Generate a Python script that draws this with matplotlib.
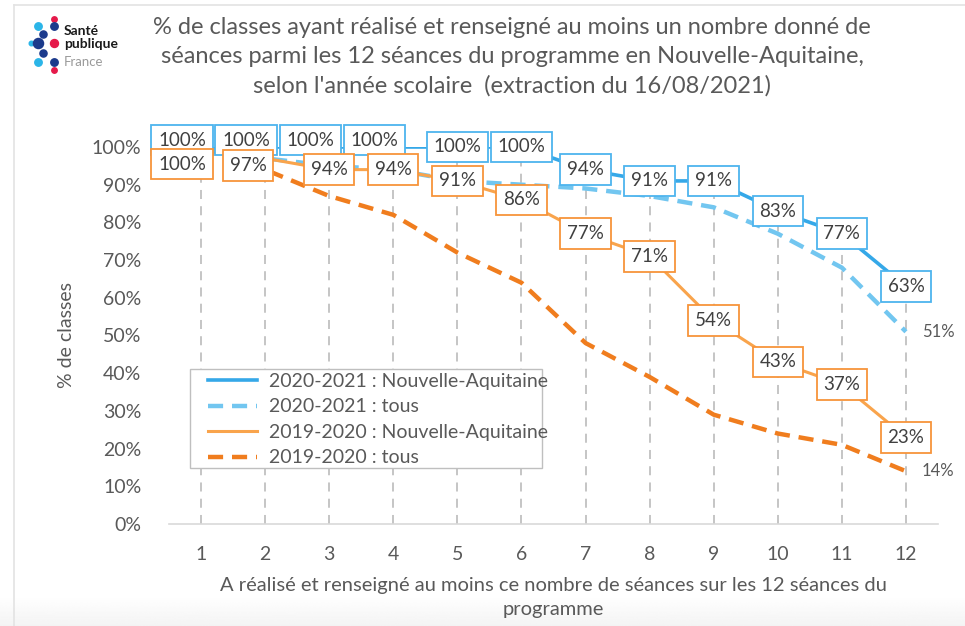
import matplotlib
matplotlib.use("Agg")
import matplotlib.pyplot as plt
import numpy as np
from matplotlib.lines import Line2D
from matplotlib.patches import Rectangle

plt.rcParams['font.family'] = ['Lato', 'DejaVu Sans']

seances = [1, 2, 3, 4, 5, 6, 7, 8, 9, 10, 11, 12]
na_2021 = [100, 100, 100, 100, 100, 100, 94, 91, 91, 83, 77, 63]
tous_2021 = [100, 97, 95, 94, 91, 90, 89, 87, 84, 77, 68, 51]
na_2020 = [100, 97, 94, 94, 91, 86, 77, 71, 54, 43, 37, 23]
tous_2020 = [100, 94, 87, 82, 72, 64, 48, 39, 29, 24, 21, 14]

title = ("% de classes ayant réalisé et renseigné au moins un nombre donné de\n"
         "séances parmi les 12 séances du programme en Nouvelle-Aquitaine,\n"
         "selon l'année scolaire  (extraction du 16/08/2021)")
xlabel = "A réalisé et renseigné au moins ce nombre de séances sur les 12 séances du\nprogramme"
ylabel = "% de classes"
legend_labels = ["2020-2021 : Nouvelle-Aquitaine", "2020-2021 : tous",
                 "2019-2020 : Nouvelle-Aquitaine", "2019-2020 : tous"]

c_blue = '#35A8E8'
c_lblue = '#72C6F0'
c_orange = '#F9A44C'
c_dorange = '#F07D1E'
txt = '#404040'
tick_c = '#595959'

W, H = 965, 626
fig = plt.figure(figsize=(W / 100, H / 100), dpi=100)

# faint grey gradient at the bottom of the slide
gax = fig.add_axes([0, 0, 1, 30 / H], zorder=-5)
grad = np.linspace(0.955, 1.0, 64).reshape(-1, 1)
gax.imshow(np.repeat(grad, 4, axis=1), cmap='gray', vmin=0, vmax=1,
           aspect='auto', extent=(0, 1, 0, 1), origin='lower')
gax.set_axis_off()

AX_L, AX_R, AX_T, AX_B = 169, 938, 147, 524
ax = fig.add_axes([AX_L / W, 1 - AX_B / H, (AX_R - AX_L) / W, (AX_B - AX_T) / H])
ax.set_xlim(0.5, 12.5)
ax.set_ylim(0, 100)
ax.patch.set_alpha(0)

# drop lines
for x, a, b, c, d in zip(seances, na_2021, tous_2021, na_2020, tous_2020):
    ax.plot([x, x], [0, max(a, b, c, d)], color='#C0C0C0', lw=1.3,
            dashes=(5, 4), zorder=1)

ax.plot(seances, tous_2020, color=c_dorange, lw=3.2, dashes=(3.4, 2.0), zorder=3)
ax.plot(seances, tous_2021, color=c_lblue, lw=3.2, dashes=(3.4, 2.0), zorder=3)
ax.plot(seances, na_2020, color=c_orange, lw=2.2, zorder=4)
ax.plot(seances, na_2021, color=c_blue, lw=2.6, zorder=5)

# data labels
off_blue = [(-19, 7)] * 4 + [(0, 0)] * 8
off_orange = [(-19, -17), (-17, -7)] + [(0, 0)] * 10
for x, v, o in zip(seances, na_2021, off_blue):
    ax.annotate(f"{v}%", (x, v), xytext=o, textcoords='offset pixels',
                ha='center', va='center', fontsize=13.5, color=txt, zorder=6,
                bbox=dict(boxstyle='square,pad=0.36', fc='white', ec='#4DB4EE', lw=1.3))
for x, v, o in zip(seances, na_2020, off_orange):
    ax.annotate(f"{v}%", (x, v), xytext=o, textcoords='offset pixels',
                ha='center', va='center', fontsize=13.5, color=txt, zorder=7,
                bbox=dict(boxstyle='square,pad=0.36', fc='white', ec='#F7943A', lw=1.3))
ax.annotate(f"{tous_2021[-1]}%", (seances[-1], tous_2021[-1]), xytext=(16, 0),
            textcoords='offset pixels', ha='left', va='center', fontsize=12, color=tick_c)
ax.annotate(f"{tous_2020[-1]}%", (seances[-1], tous_2020[-1]), xytext=(16, 0),
            textcoords='offset pixels', ha='left', va='center', fontsize=12, color=tick_c)

for s in ['left', 'right', 'top']:
    ax.spines[s].set_visible(False)
ax.spines['bottom'].set_color('#D9D9D9')
ax.spines['bottom'].set_linewidth(1.2)
ax.set_yticks(range(0, 101, 10))
ax.set_yticklabels([f"{v}%" for v in range(0, 101, 10)])
ax.set_xticks(seances)
ax.tick_params(axis='both', length=0, labelsize=14, colors=tick_c)
ax.tick_params(axis='y', pad=20)
ax.tick_params(axis='x', pad=16)
ax.set_xlabel(xlabel, fontsize=14.5, color=tick_c, labelpad=10, linespacing=1.5)
ax.set_ylabel(ylabel, fontsize=14, color=tick_c, labelpad=12)

# legend (frame drawn separately)
axw, axh = AX_R - AX_L, AX_B - AX_T
handles = [Line2D([], [], color=c_blue, lw=2.6),
           Line2D([], [], color=c_lblue, lw=3.2, dashes=(3.4, 2.0)),
           Line2D([], [], color=c_orange, lw=2.2),
           Line2D([], [], color=c_dorange, lw=3.2, dashes=(3.4, 2.0))]
leg = ax.legend(handles, legend_labels, loc='upper left',
                bbox_to_anchor=((201 - AX_L) / axw, (AX_B - 366) / axh), borderaxespad=0,
                fontsize=14, frameon=False, handlelength=2.55, labelspacing=0.44,
                handletextpad=0.6, borderpad=0.35, labelcolor=tick_c)
leg.set_zorder(9)
frame = Rectangle(((190 - AX_L) / axw, (AX_B - 468) / axh), 352 / axw, 99 / axh,
                  transform=ax.transAxes, fc='white', ec='#BFBFBF', lw=1.0, zorder=8)
ax.add_patch(frame)

fig.text(512 / W, 1 - 57 / H, title, ha='center', va='center', fontsize=17,
         color=tick_c, linespacing=1.45)

# frame of the slide
fig.add_artist(Line2D([14 / W, 1], [1 - 5 / H, 1 - 5 / H], color='#E3E3E3', lw=1.2))
fig.add_artist(Line2D([14 / W, 14 / W], [1 - 5 / H, 0], color='#E3E3E3', lw=1.2))

# logo
dots = [(54, 19, '#E5194A', 14), (38, 26, '#2BB5E8', 26), (54, 26, '#1B3A8C', 26),
        (43, 34, '#1B3A8C', 24), (31, 43, '#2BB5E8', 10), (38, 43, '#1B3A8C', 48),
        (54, 43, '#E5194A', 30), (43, 53, '#1B3A8C', 24), (38, 62, '#2BB5E8', 26),
        (54, 62, '#1B3A8C', 26), (54, 70, '#E5194A', 14)]
for x, y, c, s in dots:
    fig.add_artist(Line2D([x / W], [1 - y / H], marker='o', color=c,
                          markersize=s ** 0.5 * 1.05, lw=0))
fig.text(64 / W, 1 - 31 / H, "Santé", fontsize=10, fontweight='bold', color='#1A1A1A', va='center')
fig.text(64 / W, 1 - 44 / H, "publique", fontsize=10, fontweight='bold', color='#1A1A1A', va='center')
fig.text(64 / W, 1 - 62 / H, "France", fontsize=9.5, color='#9A9A9A', va='center')

fig.savefig('out.png', dpi=100)
